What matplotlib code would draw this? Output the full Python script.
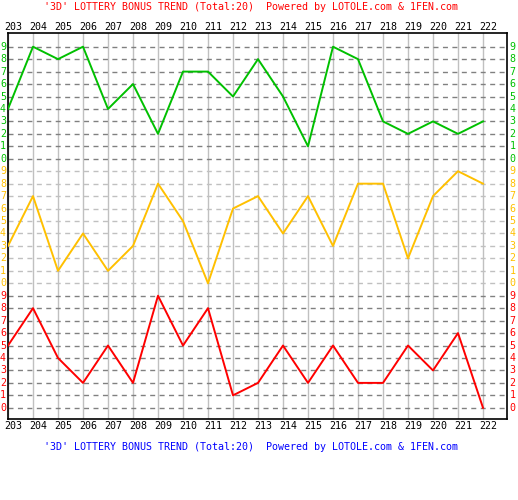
import matplotlib
matplotlib.use('Agg')
import matplotlib.pyplot as plt
import matplotlib.transforms as mtransforms

issues = list(range(203, 223))
green_vals = [4, 9, 8, 9, 4, 6, 2, 7, 7, 5, 8, 5, 1, 9, 8, 3, 2, 3, 2, 3]
orange_vals = [3, 7, 1, 4, 1, 3, 8, 5, 0, 6, 7, 4, 7, 3, 8, 8, 2, 7, 9, 8]
red_vals = [5, 8, 4, 2, 5, 2, 9, 5, 8, 1, 2, 5, 2, 5, 2, 2, 5, 3, 6, 0]
digits = list(range(10))
title = "'3D' LOTTERY BONUS TREND (Total:20)  Powered by LOTOLE.com & 1FEN.com"

GREEN = '#00c000'
ORANGE = '#ffc000'
RED = '#ff0000'
mono = 'DejaVu Sans Mono'
fs = 7.2

fig = plt.figure(figsize=(5.18, 5.0), dpi=100)
ax = fig.add_axes([8 / 518, 81 / 500, 499 / 518, 386 / 500])

xs = list(range(len(issues)))
# bands: (values, offset, line colour, grid colour)
bands = [(red_vals, 0, RED, '#808080'),
         (orange_vals, 10, ORANGE, '#c0c0c0'),
         (green_vals, 20, GREEN, '#808080')]

for x in xs:
    ax.axvline(x, color='#c0c0c0', linewidth=1.0, zorder=1)

for vals, off, col, gcol in bands:
    for d in digits:
        ax.axhline(d + off, color=gcol, linewidth=1.0, linestyle=(0, (3.6, 3.2)), zorder=1)
    ax.plot(xs, [v + off for v in vals], color=col, linewidth=1.4, zorder=3)

ax.set_xlim(0, 19.96)
ax.set_ylim(-0.9, 30.1)
ax.set_xticks([])
ax.set_yticks([])
for s in ax.spines.values():
    s.set_linewidth(1.2)
    s.set_color('black')

# x labels on top and bottom, slightly right of the grid lines
off_t = mtransforms.offset_copy(ax.transData, fig=fig, x=5, y=0, units='dots')
bt = mtransforms.blended_transform_factory(off_t, fig.transFigure)
for x, lab in zip(xs, issues):
    ax.text(x, 1 - 27 / 500, str(lab), transform=bt, ha='center', va='center',
            fontsize=fs, family=mono, color='black')
    ax.text(x, 1 - 426 / 500, str(lab), transform=bt, ha='center', va='center',
            fontsize=fs, family=mono, color='black')

# digit labels on both sides
yt = mtransforms.blended_transform_factory(fig.transFigure, ax.transData)
for vals, off, col, gcol in bands:
    for d in digits:
        ax.text(3 / 518, d + off, str(d), transform=yt, ha='center', va='center',
                fontsize=fs, family=mono, color=col)
        ax.text(512.5 / 518, d + off, str(d), transform=yt, ha='center', va='center',
                fontsize=fs, family=mono, color=col)

fig.text(251 / 518, 1 - 7 / 500, title, ha='center', va='center',
         fontsize=fs, family=mono, color='#ff0000')
fig.text(251 / 518, 1 - 447 / 500, title, ha='center', va='center',
         fontsize=fs, family=mono, color='#0000ff')

fig.savefig('out.png', dpi=100)
plt.close(fig)
